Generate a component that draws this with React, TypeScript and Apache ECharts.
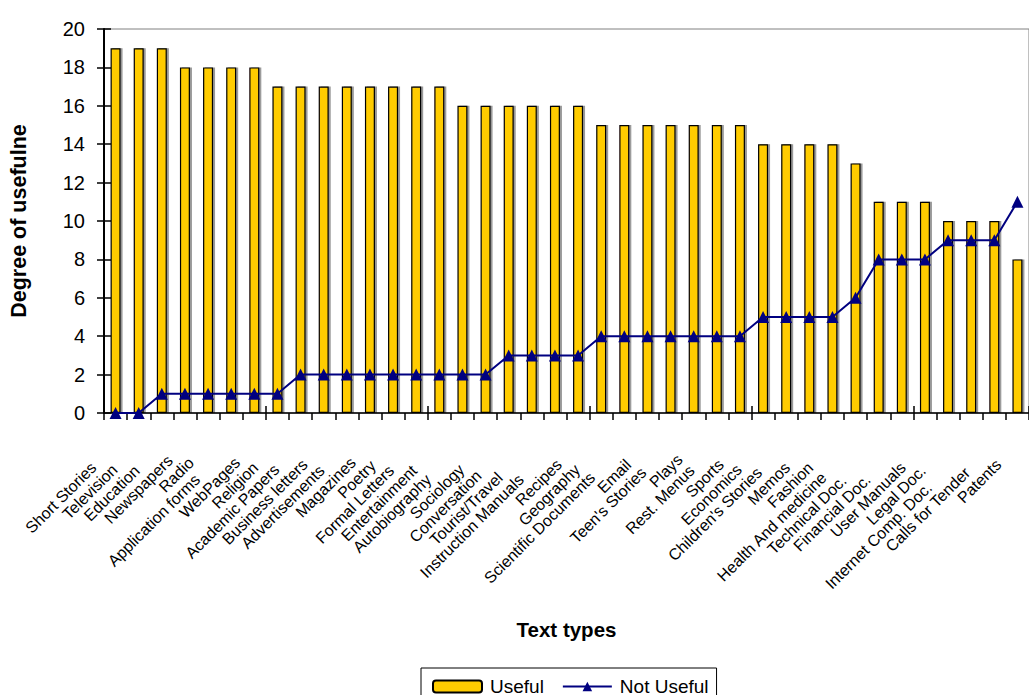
import React, { useEffect, useRef } from "react";
import * as echarts from "echarts";

const categories = [
  "Short Stories", "Television", "Education", "Newspapers", "Radio",
  "Application forms", "WebPages", "Religion", "Academic Papers", "Business letters",
  "Advertisements", "Magazines", "Poetry", "Formal Letters", "Entertainment",
  "Autobiography", "Sociology", "Conversation", "Tourist/Travel", "Instruction Manuals",
  "Recipes", "Geography", "Scientific Documents", "Email", "Teen's Stories",
  "Plays", "Rest. Menus", "Sports", "Economics", "Children's Stories",
  "Memos", "Fashion", "Health And medicine", "Technical Doc.", "Financial Doc.",
  "User Manuals", "Legal Doc.", "Internet Comp. Doc.", "Calls for Tender", "Patents",
];

const useful = [
  19, 19, 19, 18, 18, 18, 18, 17, 17, 17,
  17, 17, 17, 17, 17, 16, 16, 16, 16, 16,
  16, 15, 15, 15, 15, 15, 15, 15, 14, 14,
  14, 14, 13, 11, 11, 11, 10, 10, 10, 8,
];

const notUseful = [
  0, 0, 1, 1, 1, 1, 1, 1, 2, 2,
  2, 2, 2, 2, 2, 2, 2, 3, 3, 3,
  3, 4, 4, 4, 4, 4, 4, 4, 5, 5,
  5, 5, 6, 8, 8, 8, 9, 9, 9, 11,
];

const yTicks = [0, 2, 4, 6, 8, 10, 12, 14, 16, 18, 20];

// layout only: how far below the axis each staggered label ends (px)
const labelDrop = [
  48, 50, 51, 41, 43, 60, 43, 48, 50, 45,
  51, 43, 46, 51, 51, 60, 50, 56, 58, 60,
  45, 50, 58, 45, 53, 40, 51, 45, 50, 53,
  48, 48, 58, 61, 60, 48, 51, 68, 53, 45,
];

const FONT = "'Liberation Sans', Arial, sans-serif";
const LABEL_MARGIN = 30;
const LABEL_SIZE = 16;

export default function App() {
  const ref = useRef<HTMLDivElement>(null);

  useEffect(() => {
    if (!ref.current) return;
    const chart = echarts.init(ref.current, undefined, { renderer: "svg" });

    const rich: Record<string, any> = {};
    labelDrop.forEach((d, i) => {
      const pad = Math.max(0, (d + 4 - LABEL_MARGIN) * Math.SQRT2);
      rich["s" + i] = {
        fontSize: LABEL_SIZE,
        fontFamily: FONT,
        color: "#000",
        padding: [0, pad, 0, 0],
      };
    });

    chart.setOption({
      animation: false,
      backgroundColor: "#fff",
      grid: {
        left: 103,
        top: 29,
        right: -6,
        bottom: 282,
        show: true,
        borderColor: "#808080",
        borderWidth: 1,
        backgroundColor: "transparent",
      },
      legend: {
        left: 421,
        top: 668,
        orient: "horizontal",
        padding: [9, 8, 9, 11],
        itemWidth: 49,
        itemHeight: 12,
        itemGap: 18,
        borderColor: "#000",
        borderWidth: 1,
        textStyle: {
          fontSize: 19,
          lineHeight: 18,
          fontFamily: FONT,
          color: "#000",
          padding: [0, 0, 0, 3],
        },
        data: ["Useful", "Not Useful"],
      },
      xAxis: [
        {
          type: "category",
          data: categories,
          position: "bottom",
          name: "Text types",
          nameLocation: "middle",
          nameGap: 206,
          nameTextStyle: { fontSize: 20.5, fontWeight: "bold", fontFamily: FONT, color: "#000" },
          axisLine: { show: true, lineStyle: { color: "#000", width: 1.5 } },
          axisTick: { show: true, inside: false, length: 7, lineStyle: { color: "#000", width: 1.5 } },
          axisLabel: {
            interval: 0,
            rotate: 45,
            margin: LABEL_MARGIN,
            hideOverlap: false,
            fontSize: LABEL_SIZE,
            fontFamily: FONT,
            color: "#000",
            formatter: (v: string, i: number) => `{s${i}|${v}}`,
            rich,
          },
          splitLine: { show: false },
        },
        {
          type: "category",
          data: categories,
          position: "bottom",
          axisLine: { show: false },
          axisTick: { show: true, inside: true, length: 7, lineStyle: { color: "#000", width: 1.5 } },
          axisLabel: { show: false },
          splitLine: { show: false },
        },
      ],
      yAxis: [
        {
          type: "value",
          min: yTicks[0],
          max: yTicks[yTicks.length - 1],
          interval: yTicks[1] - yTicks[0],
          position: "left",
          name: "Degree of usefulne",
          nameLocation: "middle",
          nameGap: 74,
          nameRotate: 90,
          nameTextStyle: { fontSize: 21.5, fontWeight: "bold", fontFamily: FONT, color: "#000" },
          axisLine: { show: true, lineStyle: { color: "#000", width: 2 } },
          axisTick: { show: true, inside: false, length: 7, lineStyle: { color: "#000", width: 1.5 } },
          axisLabel: { margin: 19, fontSize: 20, fontFamily: FONT, color: "#000" },
          splitLine: { show: false },
        },
        {
          type: "value",
          min: yTicks[0],
          max: yTicks[yTicks.length - 1],
          interval: yTicks[1] - yTicks[0],
          position: "left",
          axisLine: { show: false },
          axisTick: { show: true, inside: true, length: 7, lineStyle: { color: "#000", width: 1.5 } },
          axisLabel: { show: false },
          splitLine: { show: false },
        },
      ],
      series: [
        {
          name: "Useful",
          type: "bar",
          xAxisIndex: 0,
          yAxisIndex: 0,
          data: useful,
          barWidth: 10,
          itemStyle: {
            color: "#FFCC00",
            borderColor: "#000",
            borderWidth: 1.2,
            shadowColor: "rgba(0,0,0,0.4)",
            shadowOffsetX: 2,
            shadowOffsetY: 0,
            shadowBlur: 0,
          },
        },
        {
          name: "Not Useful",
          type: "line",
          xAxisIndex: 0,
          yAxisIndex: 0,
          data: notUseful,
          symbol: "triangle",
          symbolSize: 12,
          color: "#000080",
          itemStyle: { color: "#000080" },
          lineStyle: { color: "#000080", width: 2 },
        },
      ],
    });

    return () => chart.dispose();
  }, []);

  return (
    <div
      ref={ref}
      style={{ position: "fixed", left: 0, top: 0, width: 1029, height: 695, background: "#fff" }}
    />
  );
}
